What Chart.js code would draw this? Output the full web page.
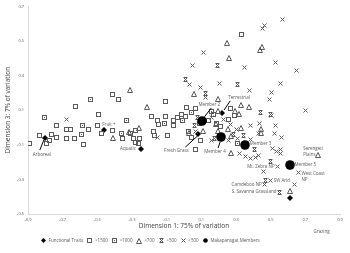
<!DOCTYPE html>
<html>
<head>
<meta charset="utf-8">
<script src="https://cdn.jsdelivr.net/npm/chart.js@4.4.0/dist/chart.umd.min.js"></script>
<style>
html, body { margin: 0; padding: 0; background: #fff; }
</style>
</head>
<body>
<canvas id="myChart" width="350" height="253"></canvas>
<script>
// values, [dimension 1, dimension 3]
var seriesNames = ['Functional Traits', '>1500', '>1000', '>700', '>500', '<500', 'Makapansgat Members'];
var xTicks = [-0.9, -0.7, -0.5, -0.3, -0.1, 0.1, 0.3, 0.5, 0.7, 0.9];
var yTicks = [-0.5, -0.3, -0.1, 0.1, 0.3, 0.5, 0.7];

var traitNames = ['Arboreal', 'Fruit +', 'Aquatic', 'Fresh Grass', 'Terrestrial', 'Grazing'];
var traits = [[-0.803, -0.061], [-0.46, -0.014], [-0.249, -0.124], [0.083, -0.038], [0.22, 0.084], [0.609, -0.408]];

var memberNames = ['Member 2', 'Member 4', 'Member 3', 'Member 5'];
var members = [[0.106, 0.038], [0.214, -0.055], [0.351, -0.101], [0.609, -0.217]];

var gt1500 = [
  [-0.894, -0.095], [-0.831, -0.049], [-0.791, -0.095], [-0.774, -0.078], [-0.763, -0.038], [-0.734, -0.055],
  [-0.734, 0.009], [-0.677, -0.014], [-0.654, -0.009], [-0.677, -0.061], [-0.631, -0.066], [-0.58, -0.101],
  [-0.551, -0.014], [-0.5, 0.009], [-0.477, -0.032], [-0.414, -0.02], [-0.626, 0.124], [-0.494, 0.078],
  [-0.414, 0.188], [-0.38, 0.159], [-0.306, -0.032], [-0.277, -0.02], [-0.289, -0.066], [-0.357, -0.061],
  [-0.277, -0.084], [-0.26, -0.095], [-0.254, -0.061], [-0.186, 0.066], [-0.151, 0.043], [-0.146, 0.02],
  [-0.106, 0.066], [-0.06, 0.038], [-0.06, 0.009], [-0.037, 0.055], [-0.014, 0.078], [0.009, 0.066],
  [-0.106, 0.153], [0.014, 0.113], [0.066, 0.107], [-0.174, -0.026], [-0.169, -0.049], [-0.094, -0.049],
  [0.026, -0.026], [0.043, -0.055], [0.066, -0.13], [0.14, 0.043], [0.169, 0.078], [0.266, 0.107],
  [0.334, 0.535], [0.186, 0.026], [0.089, 0.026], [0.209, 0.003], [0.254, 0.049], [0.289, 0.072],
  [0.094, -0.078]
];
var gt1000 = [
  [-0.803, 0.055], [-0.54, 0.159], [-0.586, 0.009], [-0.591, -0.043], [-0.334, 0.043], [-0.363, -0.032],
  [-0.111, 0.026], [0.043, 0.084], [0.157, 0.095], [0.311, -0.095], [-0.009, 0.043]
];
var gt700Names = ['Serengeti Plains'];
var gt700 = [
  [0.774, -0.159], [-0.311, 0.217], [-0.409, -0.061], [-0.317, -0.026], [-0.26, -0.003], [-0.214, 0.118],
  [0.06, 0.194], [0.197, 0.165], [0.197, 0.095], [0.249, 0.488], [0.26, 0.402], [0.437, 0.448],
  [0.449, 0.465], [0.329, 0.13], [0.374, 0.118], [0.026, -0.032], [0.111, -0.02], [0.329, -0.003],
  [0.443, -0.009], [0.443, -0.032], [0.271, -0.147], [0.609, -0.367], [0.197, -0.02], [0.254, -0.009],
  [0.271, -0.049], [0.186, 0.02], [0.317, 0.078], [0.294, 0.095]
];
var gt500Names = ['S. Savanna Grassland'];
var gt500 = [
  [0.551, -0.373], [0.009, 0.275], [0.191, 0.361], [0.311, 0.246], [0.123, 0.194], [0.06, 0.009],
  [0.346, -0.049], [0.409, -0.13], [0.5, -0.199], [0.471, -0.309], [0.5, 0.078], [0.443, 0.084],
  [0.077, 0.055], [0.283, -0.038], [0.174, -0.061]
];
var lt500Names = ['Mt. Zebra NP', 'West Coast NP', 'SW Arid', 'Camdeboo NP'];
var lt500 = [
  [0.54, -0.228], [0.66, -0.263], [0.5, -0.309], [0.466, -0.332], [0.569, 0.627], [0.454, 0.575],
  [0.466, 0.587], [0.111, 0.431], [0.049, 0.361], [0.529, 0.373], [0.351, 0.344], [0.649, 0.327],
  [0.031, 0.246], [0.094, 0.234], [0.203, 0.257], [0.557, 0.257], [0.38, 0.211], [0.506, 0.205],
  [0.123, 0.171], [0.494, 0.159], [0.7, 0.101], [0.506, 0.072], [0.529, 0.009], [0.386, 0.014],
  [0.437, 0.026], [0.431, -0.032], [0.563, -0.055], [0.523, -0.032], [0.323, -0.153], [0.357, -0.165],
  [0.386, -0.182], [0.414, -0.176], [0.431, -0.159], [0.511, -0.124], [0.534, -0.136], [0.557, -0.13],
  [0.557, -0.153], [0.46, -0.257], [0.637, -0.332], [-0.677, 0.049], [-0.151, -0.055], [0.066, -0.026],
  [0.157, 0.055], [0.157, -0.078], [0.254, -0.078], [0.3, -0.009], [0.226, 0.049], [0.266, 0.02],
  [0.311, -0.066], [0.386, -0.072]
];

var grey = '#595959';

function marker(size, draw) {
  var c = document.createElement('canvas');
  c.width = size;
  c.height = size;
  var g = c.getContext('2d');
  g.strokeStyle = '#5a5a5a';
  g.fillStyle = '#5a5a5a';
  g.lineWidth = 1;
  draw(g);
  return c;
}
var sqMark = marker(5, function (g) { g.strokeRect(0.5, 0.5, 4, 4); });
var bsqMark = marker(5, function (g) { g.strokeRect(0.5, 0.5, 4, 4); g.fillRect(2, 2, 1, 1); });
var triMark = marker(6, function (g) {
  g.beginPath(); g.moveTo(3, 0.5); g.lineTo(5.5, 5.5); g.lineTo(0.5, 5.5); g.closePath(); g.stroke();
});
var hxMark = marker(5, function (g) {
  g.beginPath();
  g.moveTo(0.5, 0.5); g.lineTo(4.5, 0.5); g.moveTo(0.5, 4.5); g.lineTo(4.5, 4.5);
  g.moveTo(1, 1); g.lineTo(4, 4); g.moveTo(4, 1); g.lineTo(1, 4);
  g.stroke();
});
var xMark = marker(5, function (g) {
  g.beginPath(); g.moveTo(0.5, 0.5); g.lineTo(4.5, 4.5); g.moveTo(4.5, 0.5); g.lineTo(0.5, 4.5); g.stroke();
});
var dMark = marker(6, function (g) {
  g.fillStyle = '#000';
  g.beginPath(); g.moveTo(3, 0); g.lineTo(6, 3); g.lineTo(3, 6); g.lineTo(0, 3); g.closePath(); g.fill();
});
var cMark = marker(10, function (g) {
  g.fillStyle = '#000';
  g.beginPath(); g.arc(5, 5, 4.8, 0, Math.PI * 2); g.fill();
});
var dSmall = marker(5, function (g) {
  g.fillStyle = '#000';
  g.beginPath(); g.moveTo(2.5, 0); g.lineTo(5, 2.5); g.lineTo(2.5, 5); g.lineTo(0, 2.5); g.closePath(); g.fill();
});
var cSmall = marker(5, function (g) {
  g.fillStyle = '#000';
  g.beginPath(); g.arc(2.5, 2.5, 2.3, 0, Math.PI * 2); g.fill();
});

var marks = [dMark, sqMark, bsqMark, triMark, hxMark, xMark, cMark];
var legendMarks = [dSmall, sqMark, bsqMark, triMark, hxMark, xMark, cSmall];
var series = [traits, gt1500, gt1000, gt700, gt500, lt500, members];

function pts(arr) {
  return arr.map(function (p) { return { x: p[0], y: p[1] }; });
}

// data labels: dataset, point, offset from the point, leader line (from, to)
var notes = [
  { ds: 0, i: 0, text: [traitNames[0]], dx: -3, dy: 17, align: 'center', line: [-5, 12, -1, 2] },
  { ds: 0, i: 1, text: [traitNames[1]], dx: -2, dy: -5, align: 'left' },
  { ds: 0, i: 2, text: [traitNames[2]], dx: -5, dy: 0, align: 'right' },
  { ds: 0, i: 3, text: [traitNames[3]], dx: -22, dy: 17, align: 'center', line: [-13, 13, -1, 2] },
  { ds: 0, i: 4, text: [traitNames[4]], dx: 17, dy: -15, align: 'center', line: [2, -3, 8, -12] },
  { ds: 0, i: 5, text: [traitNames[5]], dx: 32, dy: 34, align: 'center' },
  { ds: 6, i: 0, text: [memberNames[0]], dx: 7, dy: -16, align: 'center', line: [2, -4, 9, -13] },
  { ds: 6, i: 1, text: [memberNames[1]], dx: -6, dy: 15, align: 'center', line: [-3, 11, -1, 5] },
  { ds: 6, i: 2, text: [memberNames[2]], dx: 5, dy: -1, align: 'left' },
  { ds: 6, i: 3, text: [memberNames[3]], dx: 5, dy: 0, align: 'left' },
  { ds: 3, i: 0, text: gt700Names[0].split(' '), dx: -15, dy: -6, align: 'left' },
  { ds: 5, i: 1, text: ['West Coast', 'NP'], dx: 3, dy: 1, align: 'left' },
  { ds: 5, i: 0, text: [lt500Names[0]], dx: -3, dy: 0, align: 'right' },
  { ds: 5, i: 2, text: [lt500Names[2]], dx: 3, dy: 0, align: 'left' },
  { ds: 5, i: 3, text: [lt500Names[3]], dx: -3, dy: 0, align: 'right' },
  { ds: 4, i: 0, text: [gt500Names[0]], dx: -3, dy: 0, align: 'right' }
];

var labelPlugin = {
  id: 'pointNotes',
  afterLayout: function (chart) {
    chart.legend.left -= 20;
    chart.legend.right -= 20;
  },
  beforeDraw: function (chart) {
    chart.ctx.imageSmoothingEnabled = false;
  },
  afterDatasetsDraw: function (chart) {
    var ctx = chart.ctx;
    ctx.save();
    ctx.font = '4.5px "Open Sans"';
    ctx.fillStyle = grey;
    ctx.textBaseline = 'middle';
    notes.forEach(function (n) {
      var el = chart.getDatasetMeta(n.ds).data[n.i];
      if (n.line) {
        ctx.strokeStyle = '#000';
        ctx.lineWidth = 1;
        ctx.beginPath();
        ctx.moveTo(el.x + n.line[0], el.y + n.line[1]);
        ctx.lineTo(el.x + n.line[2], el.y + n.line[3]);
        ctx.stroke();
      }
      ctx.textAlign = n.align;
      n.text.forEach(function (t, k) {
        ctx.fillText(t, el.x + n.dx, el.y + n.dy + k * 5.5);
      });
    });
    ctx.restore();
  }
};

var ctx = document.getElementById('myChart').getContext('2d');
var myChart = new Chart(ctx, {
  type: 'scatter',
  data: {
    datasets: series.map(function (s, i) {
      return {
        label: seriesNames[i],
        data: pts(s),
        pointStyle: marks[i],
        pointRadius: 3,
        order: 7 - i
      };
    })
  },
  options: {
    responsive: false,
    animation: false,
    layout: { padding: { top: 6, right: 10, left: 0, bottom: 0 } },
    plugins: {
      tooltip: { enabled: false },
      legend: {
        position: 'bottom',
        labels: {
          usePointStyle: true,
          pointStyleWidth: 6,
          padding: 3.5,
          color: grey,
          font: { family: 'Open Sans', size: 4.5 },
          sort: function (a, b) { return a.datasetIndex - b.datasetIndex; },
          generateLabels: function (chart) {
            var items = Chart.defaults.plugins.legend.labels.generateLabels(chart);
            items.forEach(function (it) { it.pointStyle = legendMarks[it.datasetIndex]; });
            return items;
          }
        }
      }
    },
    scales: {
      x: {
        type: 'linear',
        min: xTicks[0],
        max: xTicks[xTicks.length - 1],
        grid: { display: false, drawTicks: false },
        border: { color: '#d9d9d9' },
        ticks: {
          stepSize: 0.2,
          padding: 3,
          maxRotation: 0,
          autoSkip: false,
          color: grey,
          font: { family: 'Open Sans', size: 4 },
          callback: function (v) { return v.toFixed(1); }
        },
        title: {
          display: true,
          text: 'Dimension 1: 75% of variation',
          color: '#404040',
          font: { family: 'Open Sans', size: 6.5 },
          padding: { top: 0, bottom: 5 }
        },
        afterFit: function (s) { s.height = 21; }
      },
      y: {
        type: 'linear',
        min: yTicks[0],
        max: yTicks[yTicks.length - 1],
        grid: { display: false, drawTicks: false },
        border: { color: '#d9d9d9' },
        ticks: {
          stepSize: 0.2,
          padding: 4,
          color: grey,
          font: { family: 'Open Sans', size: 4 },
          callback: function (v) { return v.toFixed(1); }
        },
        title: {
          display: true,
          text: 'Dimension 3: 7% of variation',
          color: '#404040',
          font: { family: 'Open Sans', size: 6.5 },
          padding: { top: 4, bottom: 0 }
        },
        afterFit: function (s) { s.width = 28; }
      }
    }
  },
  plugins: [labelPlugin]
});
</script>
</body>
</html>
